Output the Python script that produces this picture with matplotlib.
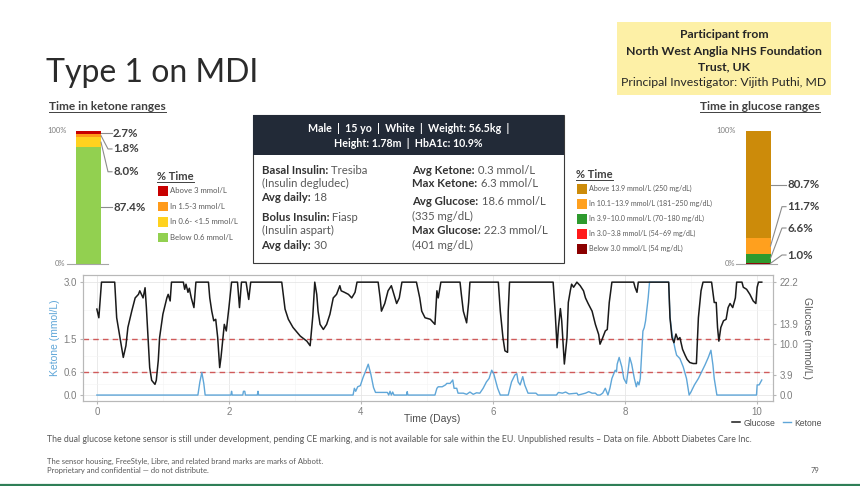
import matplotlib
matplotlib.use("Agg")
import matplotlib.pyplot as plt
from matplotlib.patches import Rectangle

W, H = 860, 486

# ---- data ----
ketone_labels = ["Below 0.6 mmol/L", "In 0.6- <1.5 mmol/L", "In 1.5-3 mmol/L", "Above 3 mmol/L"]
ketone_pct = [87.4, 8.0, 1.8, 2.7]

glucose_labels = ["Below 3.0 mmol/L (54 mg/dL)", "In 3.0–3.8 mmol/L (54–69 mg/dL)",
                  "In 3.9–10.0 mmol/L (70–180 mg/dL)", "In 10.1–13.9 mmol/L (181–250 mg/dL)",
                  "Above 13.9 mmol/L (250 mg/dL)"]
glucose_pct = [1.0, 0.0, 6.6, 11.7, 80.7]

cgm_days = [0.00, 0.03, 0.07, 0.27, 0.30, 0.35, 0.40, 0.44, 0.47, 0.53, 0.58, 0.63, 0.65, 0.70,
            0.73, 0.75, 0.78, 0.80, 0.83, 0.88, 0.90, 0.93, 0.95, 1.00, 1.06, 1.08, 1.11, 1.13,
            1.31, 1.33, 1.35, 1.38, 1.40, 1.43, 1.47, 1.50, 1.69, 1.71, 1.74, 1.77, 1.80, 1.83,
            1.86, 1.88, 1.91, 1.93, 1.96, 2.00, 2.04, 2.13, 2.16, 2.19, 2.26, 2.30, 2.33, 2.80,
            2.85, 2.90, 2.97, 3.08, 3.18, 3.23, 3.27, 3.30, 3.33, 3.35, 3.38, 3.43, 3.48, 3.53,
            3.58, 3.63, 3.68, 3.70, 3.75, 3.81, 3.86, 3.91, 3.94, 4.26, 4.29, 4.31, 4.36, 4.41,
            4.46, 4.49, 4.54, 4.58, 4.62, 4.84, 4.89, 4.92, 4.97, 5.05, 5.10, 5.12, 5.15, 5.17,
            5.21, 5.50, 5.52, 5.55, 5.60, 5.63, 5.65, 6.08, 6.11, 6.15, 6.18, 6.22, 6.23, 6.25,
            6.91, 6.94, 6.97, 6.99, 7.02, 7.04, 7.08, 7.12, 7.14, 7.17, 7.19, 7.22, 7.27, 7.32,
            7.37, 7.40, 7.44, 7.50, 7.55, 7.60, 7.62, 7.65, 7.70, 7.73, 7.76, 7.80, 8.13, 8.15,
            8.18, 8.20, 8.66, 8.68, 8.71, 8.74, 8.77, 8.80, 8.83, 8.87, 8.91, 8.94, 8.98, 9.03,
            9.08, 9.11, 9.15, 9.18, 9.31, 9.35, 9.38, 9.40, 9.42, 9.45, 9.49, 9.53, 9.56, 9.59,
            9.63, 9.67, 9.69, 9.77, 9.79, 9.84, 9.89, 9.94, 9.98, 10.00, 10.02, 10.07]
cgm_glucose = [16.9, 15.2, 22.2, 22.2, 15.2, 11.3, 7.4, 9.7, 13.3, 16.6, 19.1, 19.8, 20.5, 19.1,
               21.1, 17.2, 10.0, 5.4, 2.9, 2.1, 2.9, 6.8, 11.3, 15.9, 19.1, 19.8, 18.5, 22.2,
               22.2, 20.8, 21.8, 20.2, 21.0, 19.1, 17.2, 22.2, 22.2, 19.1, 16.5, 14.6, 14.9, 11.3,
               5.4, 7.4, 11.3, 13.9, 12.6, 17.2, 22.2, 22.2, 17.2, 22.2, 22.2, 18.8, 22.2, 22.2,
               16.9, 14.9, 13.3, 11.6, 10.6, 9.7, 15.5, 22.2, 19.8, 16.5, 13.9, 12.9, 13.9, 15.9,
               19.1, 19.8, 21.5, 20.5, 20.2, 19.8, 19.1, 20.2, 22.2, 22.2, 19.1, 16.5, 18.0, 20.5,
               21.5, 20.2, 18.0, 19.1, 22.2, 22.2, 19.1, 16.5, 15.2, 14.9, 14.2, 13.9, 20.5, 19.1,
               22.2, 22.2, 19.8, 16.5, 14.2, 18.2, 22.2, 22.2, 16.5, 11.3, 8.7, 8.4, 16.5, 22.2,
               22.2, 16.5, 9.3, 13.3, 17.0, 14.6, 6.1, 11.3, 18.2, 20.5, 21.8, 21.2, 22.2, 21.5,
               20.5, 19.1, 18.0, 16.5, 13.9, 11.9, 10.0, 10.9, 12.6, 12.9, 18.2, 22.2, 22.2, 21.2,
               20.2, 22.2, 22.2, 15.2, 11.3, 10.3, 12.0, 10.9, 11.3, 9.0, 7.8, 7.0, 6.4, 6.2,
               6.2, 15.2, 20.5, 22.2, 22.2, 18.2, 18.2, 13.3, 10.6, 13.3, 14.6, 14.9, 17.2, 18.0,
               17.2, 19.1, 22.2, 22.2, 21.2, 20.8, 19.8, 18.5, 18.0, 21.2, 22.2, 22.2]

ket_days = [0.00, 1.53, 1.56, 1.59, 1.62, 1.64, 2.03, 2.04, 2.05, 2.21, 2.22, 2.24, 2.25, 2.43,
            2.44, 2.45, 3.88, 3.90, 3.92, 3.95, 3.99, 4.03, 4.08, 4.11, 4.15, 4.19, 4.22, 4.40,
            4.42, 4.44, 4.46, 4.48, 4.50, 4.69, 4.70, 4.71, 5.12, 5.15, 5.17, 5.23, 5.28, 5.30,
            5.35, 5.39, 5.41, 5.45, 5.47, 5.55, 5.60, 5.65, 5.70, 5.75, 5.80, 5.85, 5.90, 5.94,
            5.98, 6.01, 6.03, 6.07, 6.11, 6.23, 6.28, 6.33, 6.36, 6.38, 6.41, 6.45, 6.48, 6.53,
            6.65, 6.68, 6.96, 6.99, 7.05, 7.10, 7.15, 7.27, 7.29, 7.40, 7.45, 7.50, 7.55, 7.58,
            7.62, 7.66, 7.70, 7.73, 7.74, 7.77, 7.80, 7.82, 7.85, 7.87, 7.88, 7.91, 7.95, 7.98,
            8.02, 8.05, 8.07, 8.10, 8.14, 8.17, 8.19, 8.21, 8.23, 8.27, 8.29, 8.31, 8.35, 8.37,
            8.66, 8.68, 8.71, 8.74, 8.76, 8.78, 8.83, 8.88, 8.93, 8.97, 9.00, 9.05, 9.11, 9.16,
            9.21, 9.26, 9.30, 9.33, 9.35, 9.39, 9.99, 10.00, 10.03, 10.07]
ket_values = [0.0, 0.0, 0.35, 0.60, 0.30, 0.0, 0.0, 0.10, 0.0, 0.0, 0.10, 0.10, 0.0, 0.0,
              0.10, 0.0, 0.0, 0.18, 0.10, 0.22, 0.25, 0.46, 0.68, 0.82, 0.55, 0.20, 0.07, 0.07,
              0.0, 0.10, 0.0, 0.08, 0.0, 0.0, 0.09, 0.0, 0.0, 0.18, 0.22, 0.22, 0.27, 0.31,
              0.31, 0.40, 0.18, 0.18, 0.05, 0.05, 0.02, 0.08, 0.02, 0.06, 0.05, 0.18, 0.35, 0.44,
              0.66, 0.57, 0.44, 0.18, 0.0, 0.0, 0.35, 0.53, 0.57, 0.35, 0.27, 0.49, 0.27, 0.05,
              0.05, 0.0, 0.0, 0.07, 0.05, 0.08, 0.03, 0.05, 0.0, 0.05, 0.09, 0.05, 0.05, 0.0,
              0.0, 0.05, 0.18, 0.05, 0.0, 0.18, 0.44, 0.53, 0.66, 0.62, 0.82, 1.00, 0.75, 0.44,
              0.31, 0.71, 1.00, 0.82, 0.44, 0.22, 0.35, 0.27, 0.44, 1.70, 1.79, 1.97, 2.59, 3.0,
              3.0, 2.07, 1.63, 1.37, 1.20, 1.06, 0.97, 0.75, 0.44, 0.0, 0.09, 0.27, 0.44, 0.62,
              0.80, 1.00, 1.19, 0.80, 0.44, 0.0, 0.0, 0.27, 0.27, 0.40]

ketone_ticks = [0.0, 0.6, 1.5, 3.0]
glucose_ticks = [0.0, 3.9, 10.0, 13.9, 22.2]
day_ticks = [0, 2, 4, 6, 8, 10]
ketone_limits = [0.6, 1.5]

# ---- styling ----
SLIDE_FONT = ["Lato", "DejaVu Sans"]
CHART_FONT = ["Liberation Sans", "DejaVu Sans"]
ketone_colors = ["#92D050", "#FFD21F", "#FF9A1A", "#C80000"]
glucose_colors = ["#8B0000", "#FF1A1A", "#2E9A2E", "#FFA01E", "#CC8B0A"]
DARK = "#404040"
GREY = "#595959"
KETONE_BLUE = "#5FA6D8"

plt.rcParams["font.family"] = SLIDE_FONT


def rect(x0, y0, x1, y1):
    """pixel box (top-left origin) -> figure fraction rect"""
    return [x0 / W, 1 - y1 / H, (x1 - x0) / W, (y1 - y0) / H]


fig = plt.figure(figsize=(W / 100, H / 100), dpi=100)
slide = fig.add_axes([0, 0, 1, 1])
slide.set_xlim(0, W)
slide.set_ylim(H, 0)
slide.axis("off")

# title + yellow box
slide.text(46, 82, "Type 1 on MDI", fontsize=23, color="#2B2B2B", va="baseline")
slide.add_patch(Rectangle((617, 22), 214, 73, facecolor="#FDF0A6", edgecolor="none"))
for txt, yy, bold in [("Participant from", 35, True),
                      ("North West Anglia NHS Foundation", 51.5, True),
                      ("Trust, UK", 67, True),
                      ("Principal Investigator: Vijith Puthi, MD", 83, False)]:
    slide.text(724, yy, txt, fontsize=8.8, ha="center", va="center",
               weight="bold" if bold else "normal", color="#262626")

underlined = []
underlined.append(slide.text(49, 106, "Time in ketone ranges", fontsize=8.6, weight="bold",
                             color=DARK, va="center"))
underlined.append(slide.text(820, 106, "Time in glucose ranges", fontsize=8.6, weight="bold",
                             color=DARK, va="center", ha="right"))


def stacked_bar(box, center, values, colors, label_pos, label_x, show):
    bax = fig.add_axes(rect(*box))
    bax.set_xlim(box[0], box[2])
    bax.set_ylim(0, 100)
    bax.axis("off")
    bottom = 0
    right = center + 12.5
    k = 0
    for v, c in zip(values, colors):
        bax.bar(center, v, width=25, bottom=bottom, color=c, edgecolor="none")
        if show[k]:
            ly = label_pos[k]
            lo, hi = bottom, bottom + v
            start = ly if lo <= ly <= hi else (lo + hi) / 2
            bax.plot([right, label_x - 5, label_x - 1], [start, ly, ly], color="#8C8C8C",
                     lw=0.8, clip_on=False)
            bax.text(label_x, ly, f"{v:.1f}%", fontsize=8.3, weight="bold", color=DARK,
                     va="center")
        bottom += v
        k += 1
    bax.plot([center - 22, center + 19], [0, 0], color="#A6A6A6", lw=0.8, clip_on=False)
    bax.text(center - 22, 100, "100%", fontsize=5.5, color="#7F7F7F", ha="right", va="center")
    bax.text(center - 23, 0, "0%", fontsize=5.5, color="#7F7F7F", ha="right", va="center")


stacked_bar((40, 130.7, 160, 264), 88.5, ketone_pct, ketone_colors,
            [42.5, 69.2, 86.3, 98.0], 113, [True, True, True, True])
stacked_bar((700, 130.7, 830, 264), 758, glucose_pct, glucose_colors,
            [6.75, 0, 27.0, 43.0, 59.3], 787, [True, False, True, True, True])


def legend_block(x, y0, step, labels, colors, size):
    underlined.append(slide.text(x, y0, "% Time", fontsize=8, weight="bold", color=DARK,
                                 va="center"))
    for i, (lab, c) in enumerate(zip(labels[::-1], colors[::-1])):
        yy = y0 + 14.5 + i * step
        slide.add_patch(Rectangle((x + 1, yy - 4.5), 9.5, 9.5, facecolor=c, edgecolor="none"))
        slide.text(x + 13, yy, lab, fontsize=size, color=GREY, va="center")


legend_block(157, 176, 15.5, ketone_labels, ketone_colors, 5.6)
legend_block(576, 174, 15, glucose_labels, glucose_colors, 5.1)

# patient info box
slide.add_patch(Rectangle((253, 115), 311, 148, facecolor="white", edgecolor="#3A3A3A", lw=0.8))
slide.add_patch(Rectangle((253, 115), 311, 40, facecolor="#222A37", edgecolor="none"))
slide.text(408.5, 128.5, "Male  |  15 yo  |  White  |  Weight: 56.5kg  |", fontsize=7.7,
           weight="bold", color="white", ha="center", va="center")
slide.text(408.5, 143, "Height: 1.78m  |  HbA1c: 10.9%", fontsize=7.7, weight="bold",
           color="white", ha="center", va="center")

info_rows = [(261.5, 170, "Basal Insulin:", "Tresiba"), (261.5, 183.5, "", "(Insulin degludec)"),
             (261.5, 197.5, "Avg daily:", "18"), (261.5, 217, "Bolus Insulin:", "Fiasp"),
             (261.5, 230.5, "", "(Insulin aspart)"), (261.5, 245, "Avg daily:", "30"),
             (412.5, 170, "Avg Ketone:", "0.3 mmol/L"), (412.5, 183, "Max Ketone:", "6.3 mmol/L"),
             (412.5, 201.5, "Avg Glucose:", "18.6 mmol/L"), (412.5, 216, "", "(335 mg/dL)"),
             (412.5, 230.5, "Max Glucose:", "22.3 mmol/L"), (412.5, 245, "", "(401 mg/dL)")]
for x, y, lab, val in info_rows:
    if lab:
        t = slide.text(x, y, lab, fontsize=8.2, weight="bold", color="#333333", va="center")
        slide.annotate(" " + val, xy=(1, 0), xycoords=t, fontsize=8.2, color=GREY,
                       ha="left", va="bottom")
    else:
        slide.text(x, y, val, fontsize=8.2, color=GREY, va="center")

# ---- ketone / glucose trace ----
ax = fig.add_axes(rect(83, 275, 773, 400.7))
ax2 = ax.twinx()
ax.set_xlim(-0.21, 10.24)
ax.set_ylim(-0.15, 3.19)
ax2.set_ylim(-0.15 * 22.2 / 3, 3.19 * 22.2 / 3)

ax.set_xticks(day_ticks)
ax.set_xticks([1, 3, 5, 7, 9], minor=True)
ax.set_yticks(ketone_ticks)
ax.set_yticks([0.3, 1.05, 2.25], minor=True)
ax.set_yticklabels([f"{v:.1f}" for v in ketone_ticks])
ax2.set_yticks(glucose_ticks)
ax2.set_yticklabels([f"{v:.1f}" for v in glucose_ticks])
ax.grid(which="major", color="#E6E6E6", lw=0.6)
ax.grid(which="minor", color="#F3F3F3", lw=0.4)
for a in (ax, ax2):
    for s in a.spines.values():
        s.set_color("#B8B8B8")
        s.set_linewidth(0.8)
    a.tick_params(which="major", length=2.5, color="#B8B8B8", labelsize=7,
                  labelcolor="#7F7F7F", pad=2)
    a.tick_params(which="minor", length=0)
    for lab in a.get_xticklabels() + a.get_yticklabels():
        lab.set_family(CHART_FONT)

for lim in ketone_limits:
    ax.axhline(lim, color="#D05A5A", lw=1.0, ls=(0, (4, 3)))
k_line, = ax.plot(ket_days, ket_values, color=KETONE_BLUE, lw=1.0)
g_line, = ax2.plot(cgm_days, cgm_glucose, color="#1A1A1A", lw=1.1)

ax.set_ylabel("Ketone (mmol/L)", color=KETONE_BLUE, fontsize=7.5, family=CHART_FONT,
              ha="center", va="center")
ax.yaxis.set_label_coords(-0.041, 0.5)
ax2.set_ylabel("Glucose (mmol/L)", color="#595959", fontsize=7.5, family=CHART_FONT,
               rotation=-90, ha="center", va="center")
ax2.yaxis.set_label_coords(1.049, 0.5)
ax.set_xlabel("Time (Days)", color="#4D4D4D", fontsize=7.5, family=CHART_FONT, va="center")
ax.xaxis.set_label_coords(0.506, -0.146)

fig.legend(handles=[g_line, k_line], labels=["Glucose", "Ketone"], loc="center",
           bbox_to_anchor=(777 / W, 1 - 423 / H), ncol=2, frameon=False,
           prop={"family": CHART_FONT, "size": 6.2}, labelcolor="#4D4D4D",
           handlelength=1.0, handletextpad=0.4, columnspacing=0.8)

# footer
slide.text(47, 439, "The dual glucose ketone sensor is still under development, pending CE marking, "
           "and is not available for sale within the EU. Unpublished results – Data on file. "
           "Abbott Diabetes Care Inc.", fontsize=6.3, color=GREY, va="center")
slide.text(47, 461, "The sensor housing, FreeStyle, Libre, and related brand marks are marks of Abbott.",
           fontsize=5.5, color=GREY, va="center")
slide.text(47, 470.5, "Proprietary and confidential — do not distribute.", fontsize=5.5,
           color=GREY, va="center")
slide.text(811, 470.5, "79", fontsize=5.5, color=GREY, va="center")
slide.plot([0, W], [485, 485], color="#2F7F57", lw=1.6)

# underlines need real text extents
fig.canvas.draw()
inv = slide.transData.inverted()
for t in underlined:
    bb = t.get_window_extent()
    (x0, y0), (x1, y1) = inv.transform([[bb.x0, bb.y0], [bb.x1, bb.y1]])
    slide.plot([x0, x1], [y0 + 0.3, y0 + 0.3], color=DARK, lw=0.7)

fig.savefig("out.png", dpi=100)
